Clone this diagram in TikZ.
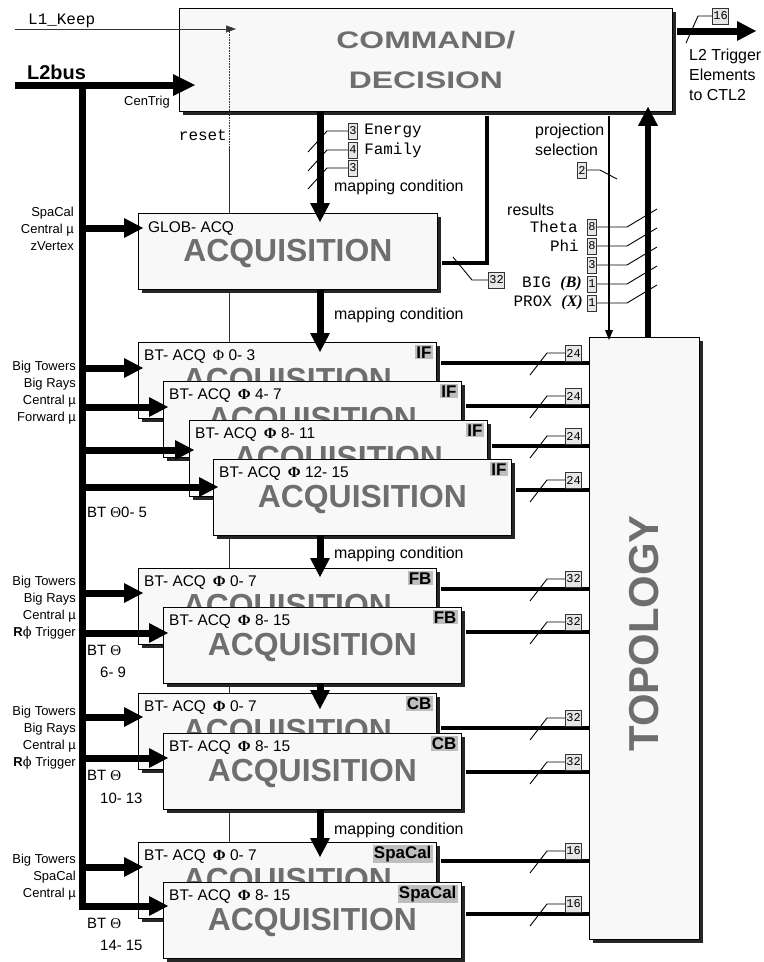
\documentclass[tikz,border=0pt]{standalone}
\usepackage{fontspec}
\setmainfont{Liberation Sans}
\setmonofont{Liberation Mono}
\newfontfamily\symfont{Liberation Serif}
\newfontfamily\phifont{DejaVu Serif}
\usetikzlibrary{arrows.meta, calc}
\definecolor{boxFill}{HTML}{F8F8F8}
\definecolor{titleGray}{HTML}{6E6E6E}
\definecolor{tagGray}{HTML}{BEBEBE}
\definecolor{wFill}{HTML}{E6E6E6}

\newcommand{\sym}[1]{{\symfont #1}}
\newcommand{\symb}[1]{{\symfont\bfseries #1}}
\newcommand{\bsym}[1]{{\symfont\bfseries\itshape #1}}
\newcommand{\phisym}{{\phifont ϕ}}
\newcommand{\squash}[1]{\scalebox{1}[0.75]{#1}}

\tikzset{
  shadowfill/.style={fill=black!85},
  cmdbox/.style={draw, line width=0.8bp, fill=boxFill, inner sep=0pt,
    minimum width=493bp, minimum height=103bp, align=center,
    font=\fontsize{32}{41}\selectfont\bfseries, text=titleGray},
  acqbox/.style={draw, line width=0.8bp, fill=boxFill, inner sep=0pt,
    minimum width=298bp, minimum height=76bp},
  topobox/.style={draw, line width=0.8bp, fill=boxFill, inner sep=0pt,
    minimum width=110bp, minimum height=602bp},
  acqtitle/.style={font=\fontsize{32}{32}\selectfont\bfseries, text=titleGray, inner sep=0pt},
  topotitle/.style={rotate=90, font=\fontsize{42}{42}\selectfont\bfseries, text=titleGray, inner sep=0pt},
  acqlabel/.style={font=\fontsize{15.5}{16}\selectfont, inner sep=0pt},
  acqtag/.style={font=\fontsize{17}{17}\selectfont\bfseries, fill=tagGray, inner sep=1.2bp},
  wbox/.style={draw=black!80, line width=0.9bp, fill=wFill, font=\fontsize{12}{12}\selectfont\ttfamily,
    inner xsep=1bp, inner ysep=1.5bp, minimum height=16bp},
  wtick/.style={line width=0.9bp},
  thinline/.style={line width=0.6bp, black!80},
  busarrow/.style={line width=7bp, -{Triangle[length=19bp, width=20bp, line width=0pt]}},
  link/.style={line width=3.4bp},
  lbl/.style={font=\fontsize{16}{20}\selectfont, inner sep=0pt},
  sidelbl/.style={font=\fontsize{13}{17}\selectfont, inner sep=0pt, align=right},
  btlbl/.style={font=\fontsize{15}{15}\selectfont, inner sep=0pt},
  mono/.style={font=\fontsize{16}{16}\selectfont\ttfamily, inner sep=0pt},
}

% shadow, box, title, label and tag of one acquisition board
\newcommand{\acqbox}[4]{%
  \fill[shadowfill] ($(#2)+(4,4)$) rectangle ++(298,76);
  \node[acqbox, anchor=north west] (#1) at (#2) {};
  \node[acqtitle] (#1-t) at ([yshift=-2bp]#1.center) {ACQUISITION};
  \node[acqlabel, anchor=west] (#1-l) at ([xshift=6bp,yshift=-15bp]#1.north west) {BT- ACQ\hspace{7bp}#3};
  \node[acqtag, anchor=north east] (#1-g) at ([xshift=-4bp,yshift=-3bp]#1.north east) {#4};
}

\begin{document}
\begin{tikzpicture}[x=1bp, y=-1bp]
  \useasboundingbox (0,0) rectangle (764,962);

  % reset line, behind the boards
  \coordinate (keep) at (229,29);
  \coordinate (resetmid) at (229,148);
  \coordinate (resetend) at (229,860);
  \draw[thinline] (resetmid) -- (resetend);

  % command / decision
  \fill[shadowfill] (183,12) rectangle ++(493,103);
  \node[cmdbox, anchor=north west] (cmd) at (179,8) {\squash{COMMAND/}\\\squash{DECISION}};
  \draw[thinline, densely dotted] (keep) -- (resetmid);

  % global acquisition
  \fill[shadowfill] (142,217) rectangle ++(299,76);
  \node[acqbox, minimum width=299bp, anchor=north west] (glob) at (138,213) {};
  \node[acqtitle] (glob-t) at ([yshift=-2bp]glob.center) {ACQUISITION};
  \node[acqlabel, anchor=west] (glob-l) at ([xshift=10bp,yshift=-16bp]glob.north west) {GLOB- ACQ};

  % boards
  \acqbox{if1}{138,342}{\sym{Φ} 0- 3}{IF}
  \acqbox{if2}{163,381}{\symb{Φ} 4- 7}{IF}
  \acqbox{if3}{189,420}{\symb{Φ} 8- 11}{IF}
  \acqbox{if4}{213,459}{\symb{Φ} 12- 15}{IF}
  \acqbox{fb1}{138,568}{\symb{Φ} 0- 7}{FB}
  \acqbox{fb2}{163,607}{\symb{Φ} 8- 15}{FB}
  \acqbox{cb1}{138,693}{\symb{Φ} 0- 7}{CB}
  \acqbox{cb2}{163,733}{\symb{Φ} 8- 15}{CB}
  \acqbox{sp1}{138,842}{\symb{Φ} 0- 7}{SpaCal}
  \acqbox{sp2}{163,882}{\symb{Φ} 8- 15}{SpaCal}

  % topology
  \fill[shadowfill] (593,341) rectangle ++(110,602);
  \node[topobox, anchor=north west] (topo) at (589,337) {};
  \node[topotitle] (topo-t) at ([yshift=5bp]topo.center) {TOPOLOGY};

  % L1 keep
  \coordinate (l1start) at (15,29);
  \node[mono, anchor=base west] (l1lbl) at (28,24) {L1\_Keep};
  \draw[thinline, -{Triangle[length=10bp, width=7bp]}] (l1start) -- ([xshift=7bp]keep);
  \node[mono, anchor=base east] (resetlbl) at (227,140) {reset};

  % L2 bus
  \coordinate (busstart) at (15,85);
  \coordinate (bustop) at (82,85);
  \coordinate (busbot) at (82,906);
  \node[font=\fontsize{20}{20}\selectfont\bfseries, inner sep=0pt, anchor=west] (l2lbl) at (27,72) {L2bus};
  \draw[busarrow, -{Triangle[length=22bp, width=22bp, line width=0pt]}] (busstart) -- ([xshift=16bp]cmd.west |- busstart);
  \node[sidelbl, anchor=east] (centrig) at (170,102) {CenTrig};
  \foreach \bx/\y in {glob/228, if1/368, if2/407, if3/450, if4/487, fb1/593, fb2/633, cb1/717, cb2/758, sp1/867}
    \draw[busarrow] (bustop |- 0,\y) -- ([xshift=5bp]\bx.west |- 0,\y);
  \draw[busarrow] (bustop) -- (busbot) -- ([xshift=5bp]sp2.west |- busbot);

  % inputs per board group
  \node[sidelbl, anchor=east] (sglob) at (74,229) {SpaCal\\Central µ\\zVertex};
  \node[sidelbl, anchor=east] (sif) at (76,393) {Big Towers\\Big Rays\\Central µ\\Forward µ};
  \node[sidelbl, anchor=east] (sfb) at (76,608) {Big Towers\\Big Rays\\Central µ\\\textbf{R}\phisym\ Trigger};
  \node[sidelbl, anchor=east] (scb) at (76,738) {Big Towers\\Big Rays\\Central µ\\\textbf{R}\phisym\ Trigger};
  \node[sidelbl, anchor=east] (ssp) at (76,877) {Big Towers\\SpaCal\\Central µ};
  \node[btlbl, anchor=west] (tif) at (87,512) {BT \sym{Θ}0- 5};
  \node[btlbl, anchor=west] (tfb) at (87,650) {BT \sym{Θ}};
  \node[btlbl, anchor=west] (tfb2) at (100,672) {6- 9};
  \node[btlbl, anchor=west] (tcb) at (87,775) {BT \sym{Θ}};
  \node[btlbl, anchor=west] (tcb2) at (100,798) {10- 13};
  \node[btlbl, anchor=west] (tsp) at (87,923) {BT \sym{Θ}};
  \node[btlbl, anchor=west] (tsp2) at (100,945) {14- 15};

  % mapping condition chain
  \coordinate (mx) at (320,0);
  \draw[busarrow] (cmd.south -| mx) -- ([yshift=-9bp]glob.north -| mx);
  \draw[busarrow] (glob.south -| mx) -- ([yshift=-10bp]if1.north -| mx);
  \draw[busarrow] (if4.south -| mx) -- ([yshift=-9bp]fb1.north -| mx);
  \draw[busarrow] (fb2.south -| mx) -- ([yshift=-16bp]cb1.north -| mx);
  \draw[busarrow] (cb2.south -| mx) -- ([yshift=-15bp]sp1.north -| mx);
  \foreach \y [count=\i] in {187, 315, 554, 830}
    \node[lbl, anchor=west] (map\i) at (334,\y) {mapping condition};

  \foreach \y/\n [count=\i] in {131/3, 150/4, 168/3} {
    \node[wbox, anchor=west] (wc\i) at (348,\y) {\n};
    \draw[wtick] (wc\i.west) -- ++(-21,0) -- ++(-19,21);
  }
  \node[mono, anchor=west] (energy) at ([xshift=6bp]wc1.east) {Energy};
  \node[mono, anchor=west] (family) at ([xshift=6bp]wc2.east) {Family};

  % global result back to command
  \coordinate (ret) at (487,263);
  \draw[link] ([xshift=4bp]glob.east |- ret) -- (ret) -- ([yshift=-4bp]ret |- cmd.south);
  \node[wbox, anchor=west] (wglob) at (488,280) {32};
  \draw[wtick] (wglob.west) -- ++(-16,0) -- ++(-19,-23);

  % projection selection
  \coordinate (px) at (609,0);
  \draw[line width=2.7bp, -{Triangle[length=10bp, width=8bp, line width=0pt]}] ([yshift=-4bp]cmd.south -| px) -- ([yshift=-3bp]topo.north -| px);
  \node[lbl, anchor=west, align=left] (projlbl) at (535,140) {projection\\selection};
  \node[wbox, anchor=east] (wproj) at (587,170) {2};
  \draw[wtick] (wproj.east) -- ++(13,0) -- ++(17,9);

  % results
  \coordinate (tx) at (648,0);
  \draw[busarrow, line width=6.5bp] (topo.north -| tx) -- ([yshift=5bp]cmd.south -| tx);
  \node[lbl, anchor=west] (reslbl) at (507,210) {results};
  \foreach \y/\n [count=\i] in {227/8, 246/8, 265/3, 284/1, 303/1} {
    \node[wbox, anchor=east] (wr\i) at (597,\y) {\n};
    \draw[wtick] (wr\i.east) -- ++(30,0) -- ++(30,-18);
  }
  \node[mono, anchor=east] (rtheta) at ([xshift=-9bp]wr1.west) {Theta};
  \node[mono, anchor=east] (rphi) at ([xshift=-8bp]wr2.west) {Phi};
  \node[mono, anchor=east] (rbig) at ([xshift=-5bp]wr4.west) {BIG \bsym{(B)}};
  \node[mono, anchor=east] (rprox) at ([xshift=-4bp]wr5.west) {PROX \bsym{(X)}};

  % trigger elements out
  \coordinate (ctl2) at (756,31);
  \draw[busarrow] ([xshift=4bp]cmd.east |- ctl2) -- (ctl2);
  \node[wbox, anchor=west] (wout) at (712,16) {16};
  \draw[wtick] (wout.west) -- ++(-14,0) -- ++(-12,27);
  \node[lbl, anchor=north west, align=left] (outlbl) at (689,49) {L2 Trigger\\Elements\\to CTL2};

  % boards to topology
  \foreach \bx/\y/\n in {if1/363/24, if2/406/24, if3/446/24, if4/490/24, fb1/589/32, fb2/632/32,
                         cb1/728/32, cb2/772/32, sp1/861/16, sp2/914/16} {
    \draw[link] ([xshift=4bp]\bx.east |- 0,\y) -- (topo.west |- 0,\y);
    \node[wbox, anchor=west] (w\bx) at (565,{\y-10}) {\n};
    \draw[wtick] (w\bx.west) -- ++(-18,0) -- ++(-17,22);
  }
\end{tikzpicture}
\end{document}
